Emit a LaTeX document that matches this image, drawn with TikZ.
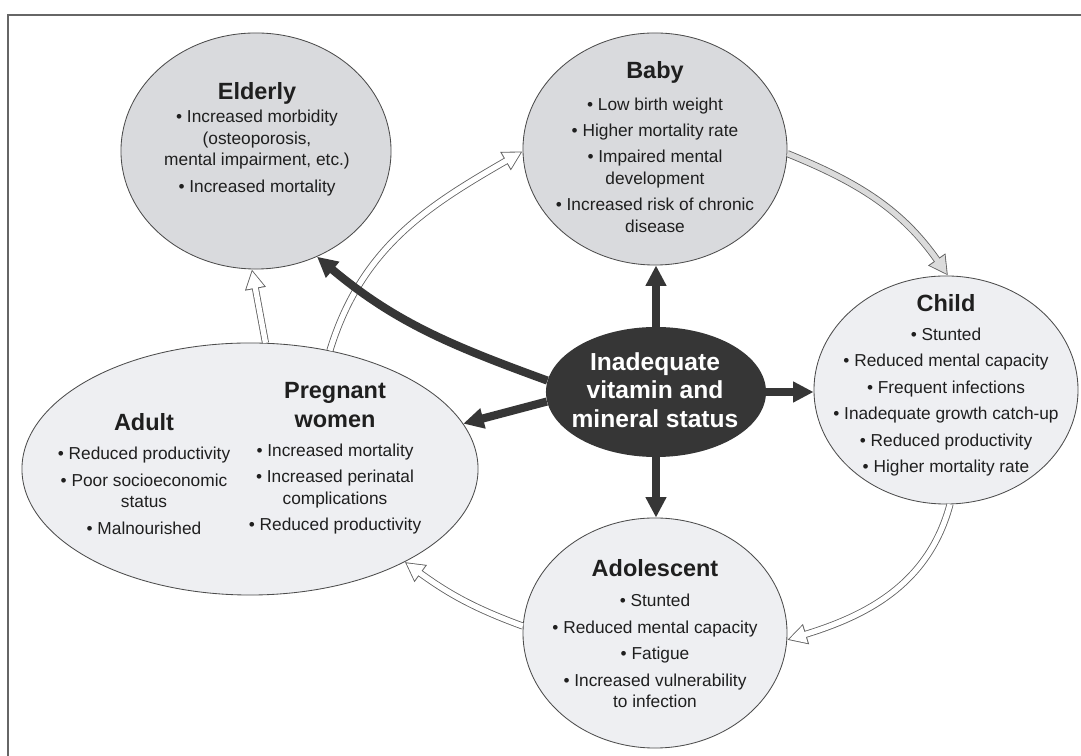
\documentclass[tikz,border=0pt]{standalone}
\usepackage{fontspec}
\setmainfont{Liberation Sans}
\usepackage{xcolor}
\usepackage{tikz}
\usetikzlibrary{arrows.meta,shapes.geometric}

\definecolor{ringdark}{HTML}{D9DADD}
\definecolor{ringlight}{HTML}{EEEFF2}
\definecolor{coreink}{HTML}{363636}

\newcommand{\bodyfont}{\fontsize{12.3}{15.3}\selectfont}
\newcommand{\headfont}{\fontsize{16.7}{21}\selectfont\bfseries}

\begin{document}
\begin{tikzpicture}[x=0.025cm,y=0.025cm,
    stage/.style={ellipse, draw=black!70, line width=0.6pt, inner sep=0pt},
    head/.style={font=\headfont, text=black!88, align=center},
    body/.style={font=\bodyfont, text=black!88, align=center},
    push/.style={draw=coreink, line width=5.8pt, -{Triangle[length=14.5pt,width=14pt]}},
    hollow/.style={draw=#1, line width=3.8pt, shorten >=1.3pt,
        -{Triangle[length=12pt,width=12pt]},
        preaction={draw=black!62, line width=5pt, shorten >=0pt,
            -{Triangle[length=14pt,width=14pt]}}},
    hollow/.default=white]
    \useasboundingbox (0,0) rectangle (1081,756);

    % frame
    \draw[black!60, line width=1.3pt] (8,0) -- (8,741) -- (1081,741);

    % life stages
    \node[stage, fill=ringdark, minimum width=6.75cm, minimum height=5.9cm] (elderly) at (256,605) {};
    \node[stage, fill=ringdark, minimum width=6.6cm, minimum height=5.8cm] (baby) at (655,607) {};
    \node[stage, fill=ringlight, minimum width=6.6cm, minimum height=5.7cm] (child) at (946,366) {};
    \node[stage, fill=ringlight, minimum width=6.6cm, minimum height=5.75cm] (adolescent) at (655,123) {};
    \node[stage, fill=ringlight, minimum width=11.4cm, minimum height=6.3cm] (adult) at (250,287) {};
    \node[ellipse, fill=coreink, inner sep=0pt, minimum width=5.5cm, minimum height=3.25cm] (core) at (656,364) {};

    \node[head] (elderlyhead) at (257,663) {Elderly};
    \node[body] (elderlybody) at (257,603) {• Increased morbidity\\(osteoporosis,\\mental impairment, etc.)\\[3.5pt]• Increased mortality};

    \node[head] (babyhead) at (655,684) {Baby};
    \node[body] (babybody) at (655,591) {• Low birth weight\\[3.5pt]• Higher mortality rate\\[3.5pt]• Impaired mental\\development\\[3.5pt]• Increased risk of chronic\\disease};

    \node[head] (childhead) at (946,453) {Child};
    \node[body] (childbody) at (946,354) {• Stunted\\[3.5pt]• Reduced mental capacity\\[3.5pt]• Frequent infections\\[3.5pt]• Inadequate growth catch-up\\[3.5pt]• Reduced productivity\\[3.5pt]• Higher mortality rate};

    \node[head] (adolhead) at (655,188) {Adolescent};
    \node[body] (adolbody) at (655,105) {• Stunted\\[3.5pt]• Reduced mental capacity\\[3.5pt]• Fatigue\\[3.5pt]• Increased vulnerability\\to infection};

    \node[head] (adulthead) at (144,334) {Adult};
    \node[body] (adultbody) at (144,265) {• Reduced productivity\\[3.5pt]• Poor socioeconomic\\status\\[3.5pt]• Malnourished};

    \node[head] (pregnanthead) at (335,351) {Pregnant\\women};
    \node[body] (pregnantbody) at (335,267) {• Increased mortality\\[3.5pt]• Increased perinatal\\complications\\[3.5pt]• Reduced productivity};

    \node[font=\fontsize{17.5}{20.1}\selectfont\bfseries, text=white, align=center] (coretext) at (655,366)
        {Inadequate\\vitamin and\\mineral status};

    % cycle
    \draw[hollow] (adult.83) -- (elderly.-92);
    \draw[hollow] (adult.56) to[out=73,in=210] (baby.181);
    \draw[hollow=black!14] (baby.-2) to[out=-22,in=125] (child.89);
    \draw[hollow] (child.-88) to[out=-105,in=17] (adolescent.-3);
    \draw[hollow] (adolescent.177) to[out=160,in=-36] (adult.-31);

    % effects of the central status
    \draw[push] (core.north) -- (core.north |- baby.south);
    \draw[push] (core.south) -- (core.south |- adolescent.north);
    \draw[push] (core.east) -- (core.east -| child.west);
    \draw[push] (core.185) -- (adult.12);
    \draw[push] (core.174) to[out=160,in=-40] (elderly.-60);
\end{tikzpicture}
\end{document}
